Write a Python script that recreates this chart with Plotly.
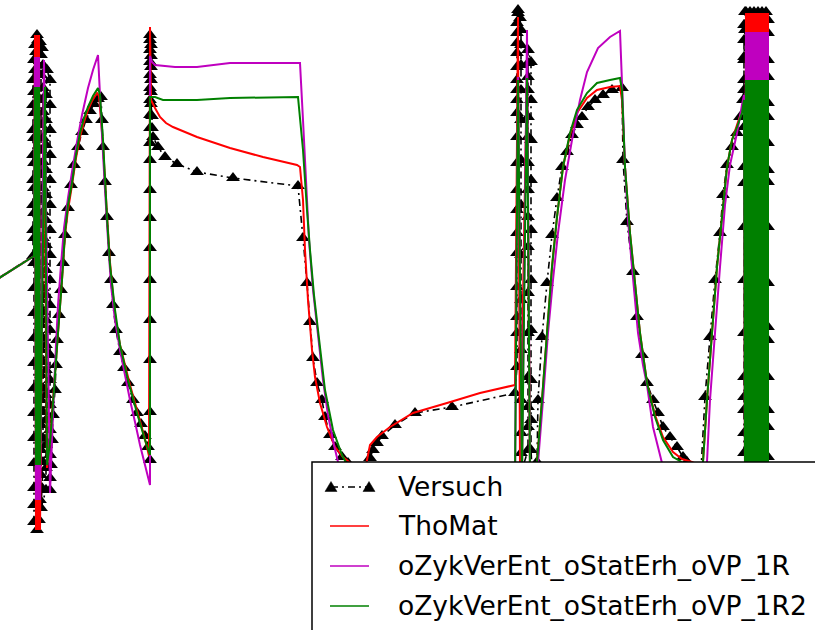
import plotly.graph_objects as go

W, H = 815, 630

# Measured curve (Versuch): (time, level) pairs, level axis runs downward
versuch_pts = [
    (-15, 287), (33, 256),
    # first burst
    (33, 230), (33, 205), (33, 180), (33, 155), (33, 130), (33, 105), (33, 80), (34, 60), (35, 45), (37, 35),
    (40, 42), (41, 55), (41, 75), (41, 100), (41, 125), (41, 150), (41, 175), (41, 200), (41, 225), (41, 250),
    (41, 275), (41, 300), (41, 325), (41, 350), (41, 375), (41, 400), (41, 425), (41, 450), (41, 475), (40, 500),
    (39, 520), (37, 530),
    (34, 522), (34, 505), (34, 488), (34, 463), (34, 438), (34, 413), (34, 388), (34, 363), (34, 338), (34, 313),
    (34, 288), (34, 263), (34, 238), (34, 213), (34, 188), (34, 163), (34, 138), (34, 113), (34, 92), (35, 70),
    (36, 52), (38, 40),
    (42, 48), (43, 65), (43, 88), (43, 112), (43, 138), (43, 162), (43, 188), (43, 212), (43, 238), (43, 262),
    (43, 288), (43, 312), (43, 338), (43, 362), (43, 388), (43, 412), (43, 438), (43, 462), (42, 488), (41, 508),
    (46, 490), (46, 468), (46, 445), (46, 420), (46, 395), (46, 370), (46, 345), (46, 320), (46, 295), (46, 270),
    (46, 245), (46, 220), (46, 195), (46, 170), (46, 145), (46, 120), (46, 95), (47, 70),
    (50, 80), (50, 105), (50, 130), (50, 155), (50, 180), (50, 205), (50, 230), (50, 255), (50, 280), (50, 305),
    (50, 330), (50, 355), (50, 380), (50, 405), (50, 430), (50, 455), (50, 478), (50, 490),
    # first ramp and decay
    (51, 465), (52, 440), (53, 415), (55, 390), (56, 365), (57, 340), (59, 315), (61, 290), (63, 263), (65, 235),
    (68, 208), (71, 185), (74, 165), (78, 147), (82, 132), (86, 120), (90, 111), (94, 104), (98, 99), (101, 97),
    (102, 120), (103, 147), (105, 182), (107, 217), (109, 253), (111, 280), (113, 305), (116, 330), (120, 352),
    (124, 368), (128, 383), (133, 400), (137, 413), (141, 424), (145, 436), (148, 447), (150, 460),
    # step at t = 150 and slow decline
    (150, 412), (150, 360), (150, 320), (150, 280), (150, 248), (150, 218), (150, 190), (150, 160), (150, 143),
    (150, 128), (150, 115), (150, 100), (150, 88), (150, 75), (150, 62), (150, 50), (150, 40), (150, 35),
    (151, 45), (151, 56), (151, 67), (151, 80), (151, 92), (151, 104), (152, 116), (152, 128), (153, 137),
    (158, 147), (165, 157), (177, 164), (197, 172), (233, 178), (298, 186),
    (303, 238), (307, 283), (310, 322), (313, 358), (317, 383), (322, 400), (325, 417), (330, 435), (335, 447),
    (342, 457), (348, 463), (356, 472), (364, 472),
    (370, 458), (373, 450), (377, 443), (382, 436), (395, 425), (415, 413), (452, 407), (515, 393),
    # second burst
    (517, 367), (517, 333), (517, 317), (517, 287), (517, 253), (517, 233), (517, 210), (517, 190), (517, 163),
    (517, 137), (517, 113), (517, 100), (517, 90), (517, 80), (517, 67), (517, 53), (517, 43), (517, 33),
    (517, 23), (518, 13), (518, 10),
    (520, 18), (521, 30), (521, 45), (521, 65), (521, 90), (521, 120), (521, 160), (521, 205), (521, 255),
    (521, 300), (521, 350), (521, 400), (521, 433), (521, 453), (522, 470),
    (528, 450), (528, 427), (528, 407), (528, 377), (528, 333), (528, 293), (528, 247), (528, 217), (528, 190),
    (528, 163), (528, 137), (528, 117), (528, 90), (528, 77), (528, 63), (528, 50),
    (531, 62), (531, 100), (531, 140), (531, 180), (531, 230), (531, 280), (531, 330), (531, 380), (531, 420),
    (531, 450), (532, 470),
    # second ramp and decay
    (537, 462), (538, 400), (542, 337), (547, 283), (552, 235), (557, 198), (562, 167), (567, 152), (572, 135),
    (577, 125), (582, 117), (588, 107), (595, 100), (603, 95), (612, 90), (622, 88),
    (623, 160), (627, 222), (633, 272), (637, 317), (642, 355), (647, 383), (653, 400), (658, 413), (663, 427),
    (670, 437), (677, 447), (683, 457), (687, 462), (695, 472),
    # third ramp
    (701, 470), (705, 397), (710, 337), (715, 280), (720, 233), (723, 195), (727, 165), (732, 147), (737, 133),
    (740, 117), (743, 100),
    # final burst
    (744, 80), (744, 57), (744, 40), (744, 25), (745, 12),
    (768, 20), (768, 33), (768, 60), (768, 77), (768, 103), (768, 117), (768, 143), (768, 170), (768, 182),
    (768, 227), (768, 283), (768, 327), (768, 340), (768, 377), (768, 410), (768, 427), (768, 457), (768, 472),
    (744, 453), (744, 433), (744, 410), (744, 397), (744, 377), (744, 333), (744, 280), (744, 227), (744, 183),
    (744, 167), (744, 127), (744, 90), (744, 60), (745, 30), (746, 12),
    (748, 472), (750, 12), (752, 472), (754, 12), (756, 472), (758, 12), (760, 472), (762, 12), (764, 472),
    (766, 12), (767, 472),
]

# Simulation ThoMat
thomat_pts = [
    (-15, 287), (34, 256),
    (35, 35), (36, 530), (37, 35), (38, 530), (39, 35), (40, 530), (44, 90), (47, 468),
    (50, 440), (53, 400), (58, 333), (62, 280), (65, 235), (68, 210), (72, 185), (76, 158), (80, 137), (84, 122),
    (88, 110), (92, 101), (97, 93),
    (99, 96), (101, 120), (103, 145), (105, 180), (107, 215), (110, 262), (113, 295), (116, 322), (120, 345),
    (125, 365), (130, 385), (137, 410), (142, 428), (146, 443), (149, 456),
    (150, 27), (151, 100),
    (155, 108), (160, 117), (166, 123), (173, 127), (185, 132), (197, 137), (215, 143), (230, 148), (263, 157),
    (297, 165), (300, 167),
    (303, 200), (305, 250), (308, 300), (312, 350), (315, 377), (320, 403), (327, 427), (335, 447), (343, 457),
    (353, 465), (360, 468), (366, 465),
    (368, 455), (370, 445), (377, 437), (390, 427), (413, 413), (447, 403), (480, 393), (515, 385),
    (518, 17), (520, 470), (527, 70), (530, 470),
    (537, 462), (542, 400), (547, 333), (552, 267), (557, 217), (563, 167), (570, 135), (577, 113), (587, 98),
    (597, 90), (610, 87), (620, 86),
    (622, 100), (625, 167), (630, 233), (635, 283), (640, 333), (647, 383), (655, 415), (663, 437), (673, 452),
    (682, 459), (692, 462), (700, 466),
    (703, 462), (707, 400), (712, 333), (717, 267), (722, 217), (727, 167), (732, 140), (737, 125), (742, 110),
    (744, 100),
    (745, 470), (746, 13), (747, 470), (748, 13), (749, 470), (750, 13), (751, 470), (752, 13), (753, 470),
    (754, 13), (755, 470), (756, 13), (757, 470), (758, 13), (759, 470), (760, 13), (761, 470), (762, 13),
    (763, 470), (764, 13), (765, 470), (766, 13), (767, 470), (768, 13), (768, 470),
]

# Simulation oZykVerEnt_oStatErh_oVP_1R
sim_1r_pts = [
    (-15, 287), (34, 256),
    (35, 57), (36, 500), (37, 57), (38, 500), (39, 57), (40, 500), (44, 60), (50, 493),
    (52, 440), (54, 390), (56, 345), (58, 305), (61, 265), (64, 228), (68, 198), (72, 172), (77, 142), (82, 115),
    (88, 88), (93, 70), (98, 55),
    (100, 95), (102, 135), (105, 190), (108, 240), (111, 285), (115, 320), (120, 350), (125, 375), (130, 400),
    (135, 422), (140, 445), (145, 465), (150, 485),
    (150, 56), (152, 62), (155, 65), (175, 67), (197, 67), (230, 63), (298, 63), (300, 63),
    (303, 120), (306, 180), (309, 240), (313, 290), (318, 335), (323, 380), (328, 415), (334, 445), (338, 462),
    (344, 480),
    (360, 490), (440, 490), (515, 488),
    (518, 77), (522, 475), (527, 30), (530, 475),
    (538, 463), (543, 400), (548, 333), (553, 280), (558, 233), (565, 180), (572, 140), (580, 100), (587, 72),
    (598, 48), (610, 37), (620, 31),
    (622, 83), (625, 167), (628, 220), (632, 267), (638, 333), (643, 365), (647, 385), (653, 427), (658, 447),
    (662, 463), (670, 485),
    (700, 490),
    (707, 462), (710, 400), (715, 333), (720, 267), (725, 205), (730, 165), (737, 133), (742, 105), (744, 95),
    (745, 470), (746, 32), (747, 470), (748, 32), (749, 470), (750, 32), (751, 470), (752, 32), (753, 470),
    (754, 32), (755, 470), (756, 32), (757, 470), (758, 32), (759, 470), (760, 32), (761, 470), (762, 32),
    (763, 470), (764, 32), (765, 470), (766, 32), (767, 470), (768, 32), (768, 470),
]

# Simulation oZykVerEnt_oStatErh_oVP_1R2
sim_1r2_pts = [
    (-15, 287), (34, 256),
    (35, 87), (36, 465), (37, 87), (38, 465), (39, 87), (40, 465), (45, 87), (47, 465),
    (50, 443), (54, 390), (58, 333), (62, 280), (65, 233), (68, 205), (72, 183), (76, 155), (80, 133), (84, 118),
    (88, 107), (93, 96), (98, 88),
    (100, 95), (103, 140), (107, 217), (110, 265), (115, 310), (120, 345), (128, 380), (137, 413), (145, 440),
    (150, 455),
    (150, 97), (155, 97), (163, 100), (197, 100), (230, 98), (298, 97),
    (303, 150), (307, 210), (310, 250), (314, 295), (318, 330), (325, 390), (333, 430), (342, 455), (350, 470),
    (360, 482), (440, 485), (515, 483),
    (518, 80), (522, 475), (527, 78), (530, 475),
    (537, 462), (542, 400), (547, 333), (552, 267), (557, 217), (563, 167), (570, 133), (577, 110), (587, 93),
    (597, 83), (610, 80), (620, 78),
    (622, 90), (625, 167), (630, 233), (635, 283), (640, 333), (647, 383), (655, 417), (663, 440), (673, 457),
    (687, 465), (695, 475),
    (703, 462), (707, 400), (712, 333), (717, 267), (722, 217), (727, 167), (732, 140), (737, 127), (742, 113),
    (744, 100),
    (745, 470), (746, 80), (747, 470), (748, 80), (749, 470), (750, 80), (751, 470), (752, 80), (753, 470),
    (754, 80), (755, 470), (756, 80), (757, 470), (758, 80), (759, 470), (760, 80), (761, 470), (762, 80),
    (763, 470), (764, 80), (765, 470), (766, 80), (767, 470), (768, 80), (768, 470),
]

labels = ["Versuch", "ThoMat", "oZykVerEnt_oStatErh_oVP_1R", "oZykVerEnt_oStatErh_oVP_1R2"]
colors = ["#000000", "#ff0000", "#bf00bf", "#008000"]


def unzip(pts):
    return [p[0] for p in pts], [p[1] for p in pts]


fig = go.Figure()

t, v = unzip(versuch_pts)
fig.add_trace(go.Scatter(
    x=t, y=v, name=labels[0], mode="lines+markers",
    line=dict(color=colors[0], width=1.6, dash="7px,4px,2px,4px", simplify=False),
    marker=dict(symbol="triangle-up", size=12, color=colors[0]),
    showlegend=False,
))
for lab, col, pts in zip(labels[1:], colors[1:], [thomat_pts, sim_1r_pts, sim_1r2_pts]):
    t, v = unzip(pts)
    fig.add_trace(go.Scatter(
        x=t, y=v, name=lab, mode="lines",
        line=dict(color=col, width=2, simplify=False),
        showlegend=False,
    ))


# Legend box drawn in pixel positions converted to paper fractions
def fx(x):
    return x / W


def fy(y):
    return 1 - y / H


shapes = [dict(type="rect", xref="paper", yref="paper",
               x0=fx(312), x1=fx(840), y0=fy(660), y1=fy(462),
               fillcolor="white", line=dict(color="black", width=1.5), layer="above")]
annotations = []
row_y = [487, 526, 566, 606]
for i, (lab, col) in enumerate(zip(labels, colors)):
    yy = row_y[i]
    if i == 0:
        shapes.append(dict(type="line", xref="paper", yref="paper",
                           x0=fx(331), x1=fx(369), y0=fy(yy), y1=fy(yy),
                           line=dict(color=col, width=1.6, dash="7px,4px,2px,4px"), layer="above"))
        for cx in (331, 369):
            path = "M{},{} L{},{} L{},{} Z".format(
                fx(cx - 6), fy(yy + 4.5), fx(cx + 6), fy(yy + 4.5), fx(cx), fy(yy - 5.5))
            shapes.append(dict(type="path", xref="paper", yref="paper", path=path,
                               fillcolor=col, line=dict(color=col, width=0.5), layer="above"))
    else:
        shapes.append(dict(type="line", xref="paper", yref="paper",
                           x0=fx(330), x1=fx(369), y0=fy(yy), y1=fy(yy),
                           line=dict(color=col, width=1.6), layer="above"))
    annotations.append(dict(xref="paper", yref="paper", x=fx(396), y=fy(yy - 1),
                            xanchor="left", yanchor="middle", showarrow=False,
                            text=lab, font=dict(family="DejaVu Sans", size=26.5, color="black")))

fig.update_layout(
    width=W, height=H,
    margin=dict(l=0, r=0, t=0, b=0, pad=0),
    paper_bgcolor="white", plot_bgcolor="white",
    xaxis=dict(visible=False, range=[0, W]),
    yaxis=dict(visible=False, range=[H, 0]),
    shapes=shapes, annotations=annotations,
    showlegend=False,
)

fig.write_html("out.html")
